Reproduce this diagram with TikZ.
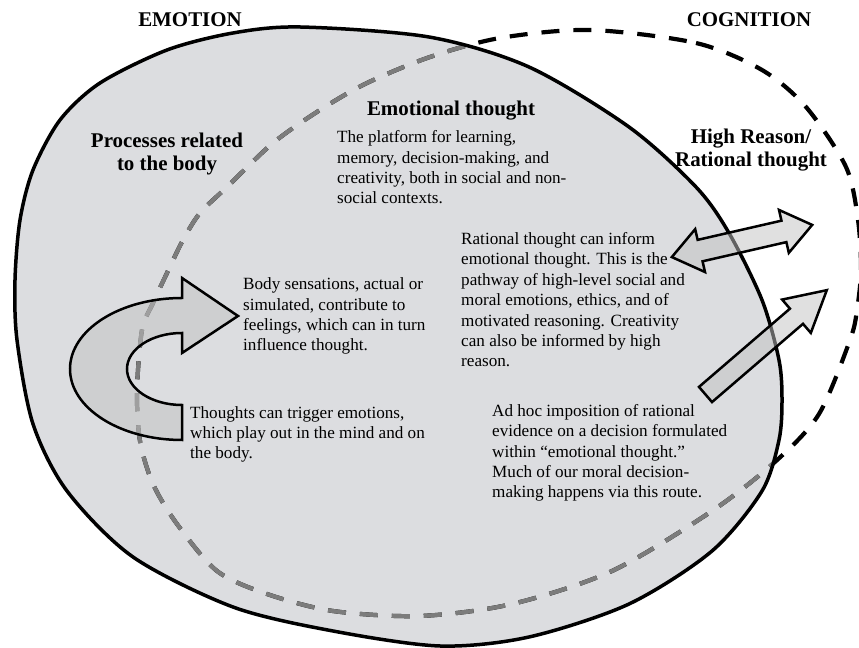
\documentclass[tikz,border=0pt]{standalone}
\usepackage{fontspec}
\setmainfont{Liberation Serif}
\usetikzlibrary{calc}
\definecolor{emofill}{RGB}{220,221,224}
\definecolor{dashgray}{RGB}{124,124,124}

\begin{document}
\begin{tikzpicture}
[x=1bp,y=1bp,
txt/.style={inner sep=0pt,anchor=base west,align=left,font=\fontsize{17.2}{20.5}\selectfont},
hd/.style={inner sep=0pt,anchor=base,align=center,font=\bfseries\fontsize{21}{24}\selectfont},
arr/.style={draw=black,line width=2.5bp,line join=miter,fill=black!24,fill opacity=0.5},
cog/.style={line width=4.2bp,dash pattern=on 18bp off 14bp}]
\clip (0,0) rectangle (859,648);
\fill[emofill,save path=\emopath] plot[smooth cycle] coordinates {(300,621) (429,611) (529,581) (629,521) (696,461) (729,415) (762,348) (779,288) (782,248) (779,208) (762,157) (712,97) (629,44) (529,11) (440,2) (333,17) (233,41) (133,91) (67,157) (33,224) (17,308) (15,368) (20,428) (33,478) (60,528) (100,565) (167,598) (233,615)};
\draw[cog,save path=\cogpath] plot[smooth cycle] coordinates {(590,618) (696,605) (762,578) (806,541) (846,481) (858,428) (861,378) (857,338) (850,308) (819,234) (776,187) (712,137) (612,77) (512,44) (420,32) (333,37) (267,54) (217,77) (177,124) (153,164) (140,207) (137,257) (142,318) (153,345) (167,375) (183,408) (200,435) (227,461) (273,505) (320,538) (367,565) (430,591) (500,610)};
\begin{scope}
\clip[use path=\emopath];
\draw[cog,dashgray,use path=\cogpath];
\end{scope}
\draw[line width=3.5bp,use path=\emopath];

\draw[arr] (182,350) -- (182,370) -- (238,332) -- (182,295) -- (182,315)
  arc[start angle=90,end angle=270,x radius=55,y radius=36] -- (182,208)
  arc[start angle=270,end angle=90,x radius=112,y radius=71] -- cycle;
\begin{scope}[shift={(742,407)},rotate=12.9]
\draw[arr] (-72,0) -- (-43,22) -- (-43,11) -- (43,11) -- (43,22) -- (72,0)
  -- (43,-22) -- (43,-11) -- (-43,-11) -- (-43,-22) -- cycle;
\end{scope}
\begin{scope}[shift={(705.5,253.5)},rotate=40.7]
\draw[arr] (0,10) -- (120,10) -- (120,22) -- (160,0) -- (120,-22) -- (120,-10)
  -- (0,-10) -- cycle;
\end{scope}

\node[hd] (emotion) at (190,621) {EMOTION};
\node[hd] (cognition) at (749,621) {COGNITION};
\node[hd] (emothought) at (451,532) {Emotional thought};
\node[hd] (bodyproc) at (167,477) {Processes related\\to the body};
\node[hd] (highreason) at (751,481) {High Reason/\\Rational thought};
\node[txt] (platform) at (337,444) {The platform for learning,\\memory, decision-making, and\\creativity, both in social and non-\\social contexts.};
\node[txt] (sensations) at (243,297) {Body sensations, actual or\\simulated, contribute to\\feelings, which can in turn\\influence thought.};
\node[txt] (informs) at (461,281) {Rational thought can inform\\emotional thought. This is the\\pathway of high-level social and\\moral emotions, ethics, and of\\motivated reasoning. Creativity\\can also be informed by high\\reason.};
\node[txt] (triggers) at (190,189) {Thoughts can trigger emotions,\\which play out in the mind and on\\the body.};
\node[txt] (adhoc) at (492,150) {Ad hoc imposition of rational\\evidence on a decision formulated\\within “emotional thought.”\\Much of our moral decision-\\making happens via this route.};
\end{tikzpicture}
\end{document}
